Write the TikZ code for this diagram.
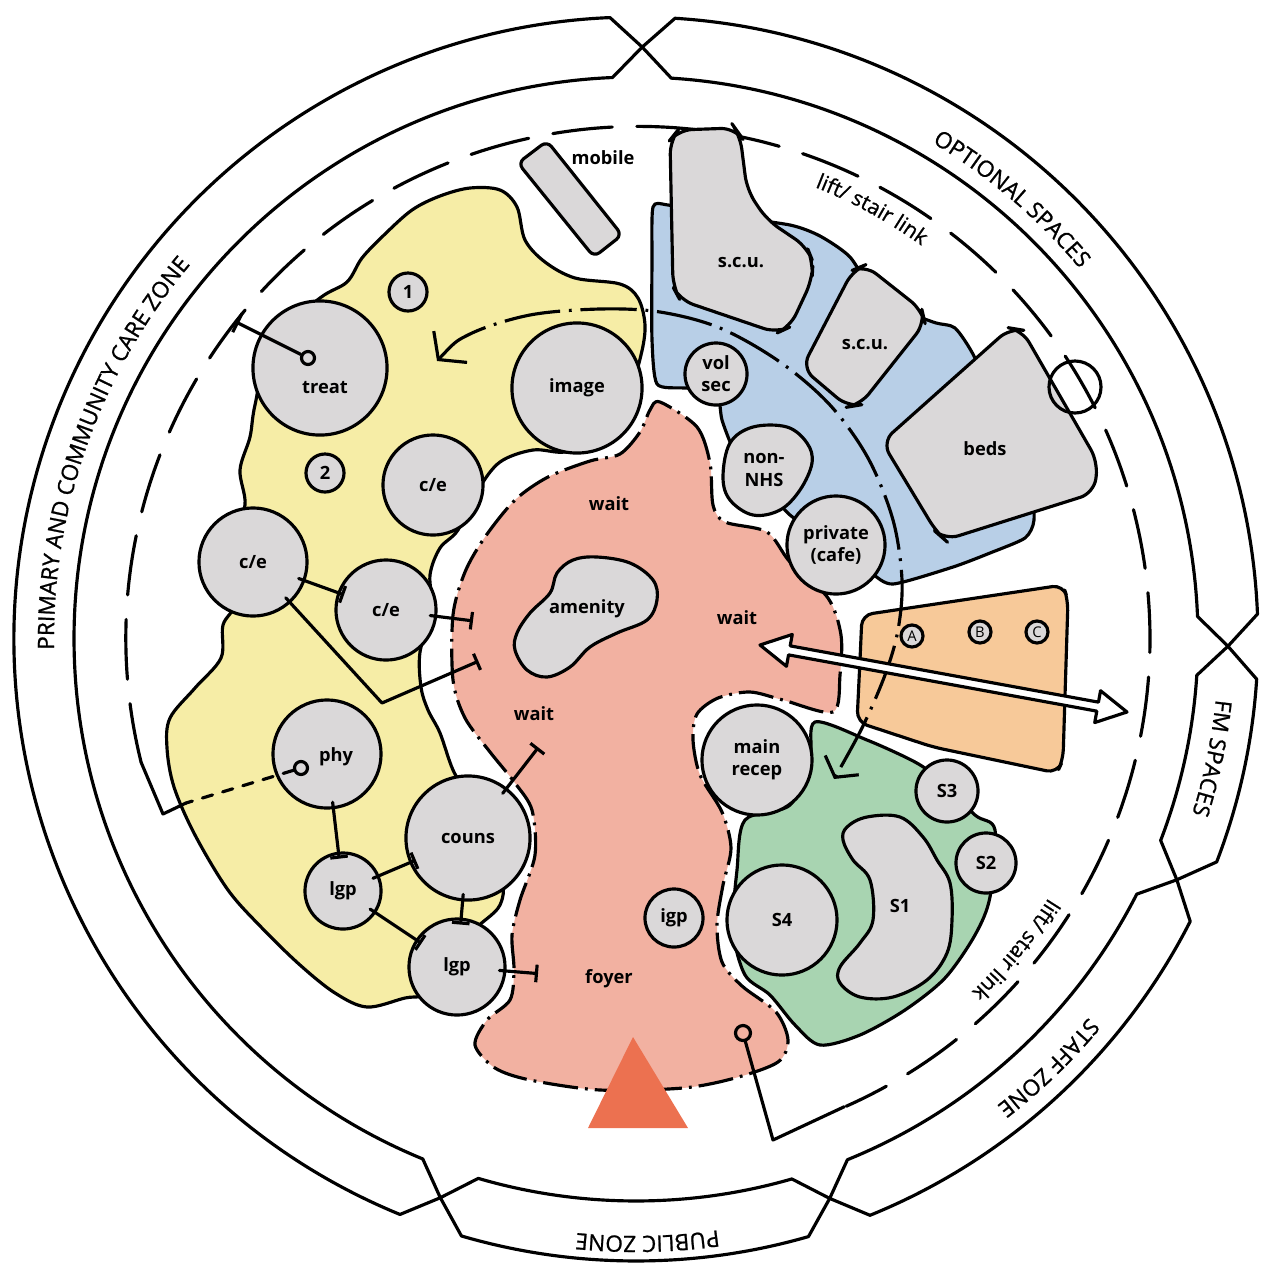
\documentclass[tikz,border=0pt]{standalone}
\usepackage{fontspec}
\setmainfont{Open Sans}
\newfontfamily\zonefam{Open Sans}[FakeBold=1]
\usetikzlibrary{arrows.meta,calc,decorations.text}

\definecolor{careyellow}{RGB}{246,237,166}
\definecolor{unitblue}{RGB}{184,207,231}
\definecolor{waitpink}{RGB}{242,177,161}
\definecolor{fmorange}{RGB}{247,201,153}
\definecolor{staffgreen}{RGB}{168,212,177}
\definecolor{roomgrey}{RGB}{218,216,217}
\definecolor{entryred}{RGB}{236,113,80}

\newcommand\zonefont{\zonefam\fontsize{6.4}{7}\selectfont}
\newcommand\linkfont{\zonefam\fontsize{6}{7}\selectfont}
\newcommand\roomfont{\fontsize{5.2}{6.3}\selectfont\bfseries}
\newcommand\bayfont{\fontsize{4.2}{5}\selectfont}

\tikzset{
  ink/.style={line width=0.9pt, line cap=round, line join=round},
  room/.style={ink, draw=black, fill=roomgrey, font=\roomfont, align=center, inner sep=0pt},
  rad/.style={circle, minimum size=#1*0.02cm},
  roomtext/.style={font=\roomfont, align=center, inner sep=0pt},
  dot/.style={ink, draw=black, circle, minimum size=0.13cm, inner sep=0pt},
  ringdash/.style={ink, dash pattern=on 17pt off 7pt},
  pinkedge/.style={ink, line cap=butt, dash pattern=on 10pt off 2pt on 0.8pt off 2pt},
  route/.style={ink, line cap=butt, dash pattern=on 16pt off 2.5pt on 0.8pt off 2.5pt},
  link/.style={ink, shorten <=-2pt, shorten >=-2pt, -{Bar[width=5pt]}},
  ringtext/.style={decorate, decoration={text along path, text align=center, text={#1}}}
}

\begin{document}
\begin{tikzpicture}[x=0.01cm, y=-0.01cm]
\useasboundingbox (0,0) rectangle (1261,1272);
\coordinate (ctr) at (636,639);

\foreach \a/\b in {109.3/270.6, 270.6/360.7, 0.7/24, 24/70.9, 70.9/109.3}
  \draw[ink] ([shift={(\a+3:622)}]ctr) arc[start angle=\a+3, end angle=\b-3, radius=622]
    -- ([shift={(\b:592)}]ctr) -- ([shift={(\b-3:562)}]ctr)
    arc[start angle=\b-3, end angle=\a+3, radius=562] -- ([shift={(\a:592)}]ctr) -- cycle;

\path[ringtext={|\zonefont|PRIMARY AND COMMUNITY CARE ZONE}] ([shift={(150:582)}]ctr) arc[start angle=150, end angle=249, radius=582];
\path[ringtext={|\zonefont|OPTIONAL SPACES}] ([shift={(280.5:578)}]ctr) arc[start angle=280.5, end angle=340.5, radius=578];
\path[ringtext={|\zonefont|FM SPACES}] ([shift={(-13.3:583)}]ctr) arc[start angle=-13.3, end angle=36.7, radius=583];
\path[ringtext={|\zonefont|STAFF ZONE}] ([shift={(21.1:590)}]ctr) arc[start angle=21.1, end angle=71.1, radius=590];
\path[ringtext={|\zonefont|PUBLIC ZONE}] ([shift={(63.9:597)}]ctr) arc[start angle=63.9, end angle=113.9, radius=597];
\path[ringtext={|\linkfont|lift/ stair link}] ([shift={(278.8:486)}]ctr) arc[start angle=278.8, end angle=318.8, radius=486];
\path[ringtext={|\linkfont|lift/ stair link}] ([shift={(19.3:487)}]ctr) arc[start angle=19.3, end angle=59.3, radius=487];

\draw[ringdash] ([shift={(166:510)}]ctr) arc[start angle=166, end angle=426, radius=512];

\filldraw[fill=careyellow, ink] plot[smooth cycle, tension=0.55] coordinates {
  (347,282) (362,258) (384,235) (412,210) (440,196) (470,188) (500,190) (517,207) (525,240)
  (545,262) (575,278) (620,284) (638,298) (645,325) (641,355) (628,395) (600,440) (565,452)
  (533,450) (500,462) (478,490) (458,530) (440,548) (430,575) (432,610) (420,652) (421,687)
  (428,710) (440,733) (453,770) (470,800) (500,870) (500,905) (470,935) (440,990) (405,998)
  (367,1007) (335,993) (300,965) (262,928) (228,890) (195,835) (174,787) (167,748) (170,718)
  (195,688) (221,658) (223,625) (236,600) (232,540) (245,505) (240,470) (250,437) (255,405)
  (272,340) (320,298)};

\filldraw[fill=unitblue, ink] plot[smooth cycle, tension=0.4] coordinates {
  (653,207) (668,205) (720,215) (790,225) (820,236) (850,257) (880,300) (933,322) (955,328)
  (975,358) (1000,420) (1030,480) (1034,520) (1025,538) (990,553) (953,567) (893,584)
  (870,572) (835,545) (790,515) (760,480) (735,452) (722,420) (716,390) (684,388) (657,384)
  (652,340) (652,260)};

\filldraw[fill=fmorange, ink, rounded corners=3pt] (862,615) -- (1063,585) -- (1068,600)
  -- (1063,760) -- (1057,773) -- (933,747) -- (857,722) -- (860,660) -- cycle;

\filldraw[fill=staffgreen, ink] plot[smooth cycle, tension=0.5] coordinates {
  (815,722) (867,740) (915,762) (940,780) (975,815) (995,830) (990,897) (975,935) (945,978)
  (905,1010) (860,1035) (820,1045) (795,1025) (770,995) (745,975) (733,930) (737,870)
  (745,820) (790,805) (810,760)};

\fill[waitpink] plot[smooth cycle, tension=0.5] coordinates {
  (660,402) (697,427) (710,463) (713,505) (725,522) (767,532) (790,562) (828,598) (841,635)
  (840,675) (833,712) (783,700) (750,692) (718,698) (697,714) (693,740) (700,775) (722,812)
  (731,848) (723,885) (717,925) (722,962) (742,986) (776,1012) (788,1040) (778,1062)
  (735,1078) (683,1088) (600,1090) (530,1080) (495,1068) (475,1045) (487,1020) (510,1000)
  (514,970) (512,935) (520,900) (535,855) (532,810) (515,783) (490,752) (465,718) (453,680)
  (453,615) (465,572) (485,537) (515,500) (548,477) (590,461) (620,454) (640,432) (650,410)};
\draw[pinkedge] plot[smooth cycle, tension=0.5] coordinates {
  (660,402) (697,427) (710,463) (713,505) (725,522) (767,532) (790,562) (828,598) (841,635)
  (840,675) (833,712) (783,700) (750,692) (718,698) (697,714) (693,740) (700,775) (722,812)
  (731,848) (723,885) (717,925) (722,962) (742,986) (776,1012) (788,1040) (778,1062)
  (735,1078) (683,1088) (600,1090) (530,1080) (495,1068) (475,1045) (487,1020) (510,1000)
  (514,970) (512,935) (520,900) (535,855) (532,810) (515,783) (490,752) (465,718) (453,680)
  (453,615) (465,572) (485,537) (515,500) (548,477) (590,461) (620,454) (640,432) (650,410)};

\fill[entryred] (633,1037) -- (688,1128) -- (588,1128) -- cycle;

\filldraw[fill=roomgrey, ink, rounded corners=2pt] (518,163) -- (547,141) -- (622,235) -- (594,257) -- cycle;
\filldraw[fill=roomgrey, ink, rounded corners=4pt] (670,140) -- (678,130) -- (735,128) -- (740,135)
  -- (747,190) -- (767,220) -- (807,247) -- (813,262) -- (812,280) -- (790,327) -- (777,333)
  -- (680,300) -- (673,287) -- cycle;
\filldraw[fill=roomgrey, ink, rounded corners=4pt] (802,368) -- (853,270) -- (865,265) -- (922,310)
  -- (925,323) -- (860,405) -- (848,407) -- cycle;
\filldraw[fill=roomgrey, ink, rounded corners=4pt] (882,442) -- (1010,328) -- (1022,330)
  -- (1098,462) -- (1094,493) -- (945,540) -- (937,533) -- cycle;
\filldraw[fill=roomgrey, ink] plot[smooth cycle, tension=0.6] coordinates {
  (730,443) (753,427) (787,427) (807,443) (812,463) (800,490) (780,510) (753,515) (730,500) (723,477)};
\filldraw[fill=roomgrey, ink] plot[smooth cycle, tension=0.6] coordinates {
  (517,633) (530,613) (550,593) (557,573) (573,560) (597,557) (630,563) (653,580) (657,600)
  (647,620) (617,633) (590,647) (570,667) (547,677) (527,670) (515,650)};
\filldraw[fill=roomgrey, ink] plot[smooth cycle, tension=0.6] coordinates {
  (847,827) (867,817) (900,817) (923,837) (937,860) (950,883) (952,920) (947,953) (927,980)
  (893,997) (860,997) (840,983) (840,967) (860,943) (873,920) (870,880) (853,860) (843,840)};

\node[roomtext] (mobile) at (603,158) {mobile};
\node[roomtext] (scuA) at (741,263) {s.c.u.};
\node[roomtext] (scuB) at (865,345) {s.c.u.};
\node[roomtext] (beds) at (985,449) {beds};
\node[roomtext] (nonnhs) at (764,470) {non-\\NHS};
\node[roomtext] (amenity) at (587,609) {amenity};
\node[roomtext] (sone) at (900,906) {S1};

\node[room, rad=67] (treat) at (320,368) {};
\node[roomtext] (treatlbl) at (325,388) {treat};
\node[dot] (treatdot) at (308,358) {};
\node[room, rad=19] (one) at (408,292) {1};
\node[room, rad=19] (two) at (325,473) {2};
\node[room, rad=65] (image) at (577,388) {image};
\node[room, rad=50] (cet) at (433,485) {c/e};
\node[room, rad=54] (cel) at (253,562) {c/e};
\node[room, rad=50] (cem) at (386,610) {c/e};
\node[room, rad=54] (phy) at (327,754) {};
\node[roomtext] (phylbl) at (336,757) {phy};
\node[dot] (phydot) at (301,768) {};
\node[room, rad=62] (couns) at (468,838) {couns};
\node[room, rad=38] (lgpU) at (343,891) {lgp};
\node[room, rad=48] (lgpL) at (457,967) {lgp};
\node[room, rad=29] (igp) at (674,918) {igp};
\node[room, rad=55] (recep) at (757,760) {main\\recep};
\node[room, rad=55] (sfour) at (782,920) {S4};
\node[room, rad=31] (sthree) at (947,791) {S3};
\node[room, rad=30] (stwo) at (986,863) {S2};
\node[room, rad=31] (volsec) at (716,374) {vol\\sec};
\node[room, rad=49] (cafe) at (836,545) {private\\(cafe)};
\node[room, rad=11, font=\bayfont] (bayA) at (912,636) {A};
\node[room, rad=11, font=\bayfont] (bayB) at (980,632) {B};
\node[room, rad=11, font=\bayfont] (bayC) at (1037,632) {C};
\node[ink, draw=black, circle, minimum size=0.52cm] (riser) at (1075,387) {};

\node[roomtext] (waitN) at (609,504) {wait};
\node[roomtext] (waitE) at (737,618) {wait};
\node[roomtext] (waitW) at (534,714) {wait};
\node[roomtext] (foyer) at (609,979) {foyer};

\coordinate (waitA) at (466,620);
\coordinate (cebend) at (382,703);
\coordinate (waitB) at (472,664);
\coordinate (waitC) at (534,753);
\coordinate (foyerA) at (531,973);
\coordinate (treatdoor) at (236,322);
\coordinate (phydoor) at (186,803);
\coordinate (keyfoot) at (773,1140);

\draw[link] (cel) -- (cem);
\draw[link] (cem) -- (waitA);
\draw[link] (cel) -- (cebend) -- (waitB);
\draw[link] (couns) -- (waitC);
\draw[link] (phy) -- (lgpU);
\draw[link] (lgpU) -- (couns);
\draw[link] (lgpU) -- (lgpL);
\draw[link] (couns) -- (lgpL);
\draw[link] (lgpL) -- (foyerA);
\draw[ink, -{Bar[width=6pt]}] (treatdot) -- (treatdoor);
\draw[ink, dashed] (phydot) -- (phydoor);
\draw[ink] (phydoor) -- (163,814) -- ([shift={(166:510)}]ctr);

\node[dot, minimum size=0.15cm] (keyloop) at (743,1033) {};
\draw[ink] (keyloop) -- (keyfoot) -- ([shift={(66:512)}]ctr);

\draw[route, {Straight Barb[length=5pt,width=13pt]}-{Straight Barb[length=4pt,width=11pt]}]
  plot[smooth, tension=0.55] coordinates {(437,361) (470,334) (530,315) (600,309) (660,312)
  (720,328) (780,362) (830,405) (868,458) (893,520) (902,580) (898,630) (885,675) (862,728) (834,779)};

\coordinate (flowL) at (760,645);
\coordinate (flowR) at (1127,712);
\coordinate (hl) at ($(flowL)!0.08!(flowR)$);
\coordinate (hr) at ($(flowR)!0.08!(flowL)$);
\draw[ink, fill=white] (flowL) -- ($(hl)!4.6pt!90:(flowR)$) -- ($(hl)!1.3pt!90:(flowR)$)
  -- ($(hr)!1.3pt!-90:(flowL)$) -- ($(hr)!4.6pt!-90:(flowL)$) -- (flowR)
  -- ($(hr)!4.6pt!90:(flowL)$) -- ($(hr)!1.3pt!90:(flowL)$) -- ($(hl)!1.3pt!-90:(flowR)$)
  -- ($(hl)!4.6pt!-90:(flowR)$) -- cycle;
\end{tikzpicture}
\end{document}
